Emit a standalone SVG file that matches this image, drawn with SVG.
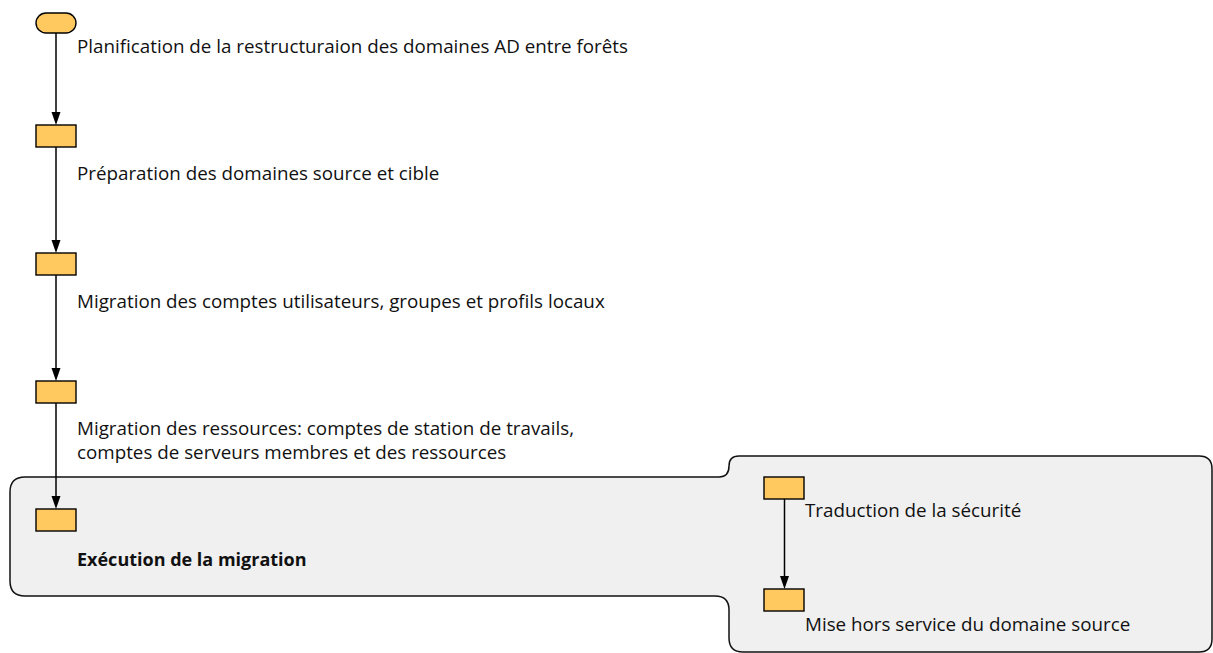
<svg xmlns="http://www.w3.org/2000/svg" width="1213" height="653" viewBox="0 0 1213 653">
  <style>
    .step { fill: #ffc95f; stroke: #000; stroke-width: 1.4; }
    .label { font-family: "Open Sans", "Noto Sans", "DejaVu Sans", sans-serif; font-size: 18.8px; fill: #111; }
    .bold { font-weight: bold; font-size: 18px; }
    .edge { stroke: #000; stroke-width: 1.5; fill: none; }
    .head { fill: #000; }
    .region { fill: #f0f0f0; stroke: #111; stroke-width: 1.5; }
  </style>

  <!-- execution region: wide lower band joined to the taller right-hand block -->
  <g id="execution-region">
    <path class="region" d="M 25 477 L 719 477 C 726 477 729 473 729 466 C 729 459 732 456 739 456 L 1199 456 Q 1212 456 1212 469 L 1212 639 Q 1212 652 1199 652 L 743 652 Q 729 652 729 638 L 729 610 Q 729 596 715 596 L 25 596 Q 10 596 10 581 L 10 492 Q 10 477 25 477 Z"/>
  </g>

  <!-- connectors -->
  <g id="connectors">
    <line class="edge" x1="56" y1="33" x2="56" y2="118"/>
    <path class="head" d="M51.5,112 L60.5,112 L56,125 Z"/>
    <line class="edge" x1="56" y1="147" x2="56" y2="246"/>
    <path class="head" d="M51.5,240 L60.5,240 L56,253 Z"/>
    <line class="edge" x1="56" y1="275" x2="56" y2="374"/>
    <path class="head" d="M51.5,368 L60.5,368 L56,381 Z"/>
    <line class="edge" x1="56" y1="403" x2="56" y2="502"/>
    <path class="head" d="M51.5,496 L60.5,496 L56,509 Z"/>
    <line class="edge" x1="784.5" y1="499" x2="784.5" y2="582"/>
    <path class="head" d="M780,576 L789,576 L784.5,589 Z"/>
  </g>

  <g id="start">
    <rect class="step" x="36" y="13" width="40" height="20" rx="10" ry="10"/>
    <text class="label" x="77" y="52.5">Planification de la restructuraion des domaines AD entre forêts</text>
  </g>

  <g id="preparation">
    <rect class="step" x="36" y="125" width="40" height="22"/>
    <text class="label" x="77" y="180">Préparation des domaines source et cible</text>
  </g>

  <g id="migration-comptes">
    <rect class="step" x="36" y="253" width="40" height="22"/>
    <text class="label" x="77" y="308">Migration des comptes utilisateurs, groupes et profils locaux</text>
  </g>

  <g id="migration-ressources">
    <rect class="step" x="36" y="381" width="40" height="22"/>
    <text class="label" x="77" y="435">Migration des ressources: comptes de station de travails,</text>
    <text class="label" x="77" y="459">comptes de serveurs membres et des ressources</text>
  </g>

  <g id="execution">
    <rect class="step" x="36" y="509" width="40" height="22"/>
    <text class="label bold" x="77" y="566">Exécution de la migration</text>
  </g>

  <g id="traduction">
    <rect class="step" x="764" y="477" width="40" height="22"/>
    <text class="label" x="805" y="517">Traduction de la sécurité</text>
  </g>

  <g id="mise-hors-service">
    <rect class="step" x="764" y="589" width="40" height="22"/>
    <text class="label" x="805" y="631">Mise hors service du domaine source</text>
  </g>
</svg>
